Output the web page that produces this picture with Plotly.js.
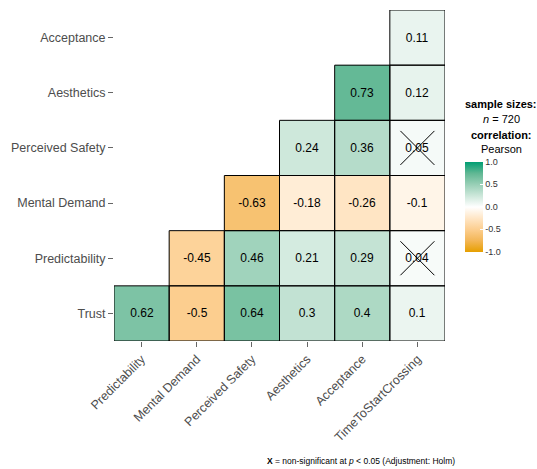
<!DOCTYPE html>
<html><head><meta charset="utf-8">
<script src="https://cdn.plot.ly/plotly-3.0.1.min.js"></script>
<style>body{margin:0;background:#fff}#chart{width:537px;height:469px}</style>
</head><body><div id="chart"></div>
<script>
const xCats = ["Predictability","Mental Demand","Perceived Safety","Aesthetics","Acceptance","TimeToStartCrossing"];
const yCats = ["Trust","Predictability","Mental Demand","Perceived Safety","Aesthetics","Acceptance"];
// rows follow yCats (bottom to top), columns follow xCats; null = empty cell
const rTrust = [0.62,-0.5,0.64,0.3,0.4,0.1];
const rPredictability = [null,-0.45,0.46,0.21,0.29,0.04];
const rMentalDemand = [null,null,-0.63,-0.18,-0.26,-0.1];
const rPerceivedSafety = [null,null,null,0.24,0.36,0.05];
const rAesthetics = [null,null,null,null,0.73,0.12];
const rAcceptance = [null,null,null,null,null,0.11];
// non-significant cells (row, column)
const nsRows = ["Predictability","Perceived Safety"];
const nsCols = ["TimeToStartCrossing","TimeToStartCrossing"];
const sampleSize = 720;

const z = [rTrust,rPredictability,rMentalDemand,rPerceivedSafety,rAesthetics,rAcceptance];
const text = z.map(r=>r.map(v=>v===null?"":String(v)));
const fnt = "Liberation Sans, Arial, sans-serif";

const heat = {
  type:"heatmap", x:xCats, y:yCats, z:z, zmin:-1, zmax:1,
  text:text, texttemplate:"%{text}", textfont:{size:12,color:"#000",family:fnt},
  hoverongaps:false,
  colorscale:[[0,"#E69F00"],[0.125,"rgb(243,182,86)"],[0.25,"rgb(252,206,143)"],[0.375,"rgb(255,230,198)"],[0.5,"#FFFFFF"],
              [0.625,"rgb(204,231,218)"],[0.75,"rgb(152,207,182)"],[0.875,"rgb(96,183,147)"],[1,"#009E73"]],
  colorbar:{thickness:18,len:90,lenmode:"pixels",ypad:0,xpad:0,x:1.06,xanchor:"left",y:0.406,yanchor:"middle",
    outlinewidth:0,tickvals:[-1,-0.5,0,0.5,1],ticktext:["-1.0","-0.5","0.0","0.5","1.0"],
    ticks:"inside",ticklen:3,tickcolor:"#fff",tickfont:{size:9,color:"#333",family:fnt}}
};
const crosses = {
  type:"scatter", mode:"markers", x:nsCols, y:nsRows, hoverinfo:"skip", showlegend:false,
  marker:{symbol:"x-thin-open",size:34,color:"#000",line:{width:1,color:"#000"}}
};

const shapes = [];
z.forEach((row,i)=>row.forEach((v,j)=>{
  if(v===null) return;
  shapes.push({type:"rect",xref:"x",yref:"y",x0:j-0.5,x1:j+0.5,y0:i-0.5,y1:i+0.5,line:{color:"#000",width:1},fillcolor:"rgba(0,0,0,0)"});
}));

const layout = {
  width:537,height:469,
  margin:{l:113.5,r:92,t:10,b:128},
  paper_bgcolor:"#fff",plot_bgcolor:"#fff",
  font:{family:fnt},
  xaxis:{type:"category",categoryorder:"array",categoryarray:xCats,tickangle:-45,showgrid:false,zeroline:false,
    ticks:"outside",ticklen:5,tickcolor:"#666",tickfont:{size:12.5,color:"#4D4D4D"},range:[-0.5,5.5]},
  yaxis:{type:"category",categoryorder:"array",categoryarray:yCats,showgrid:false,zeroline:false,
    ticks:"outside",ticklen:5,tickcolor:"#666",tickfont:{size:12.5,color:"#4D4D4D"},range:[-0.5,5.5]},
  shapes:shapes,
  annotations:[
    {xref:"paper",yref:"paper",x:1.17,y:1-(104-10)/331,text:"<b>sample sizes:</b>",showarrow:false,font:{size:11,color:"#000"},xanchor:"center",yanchor:"middle"},
    {xref:"paper",yref:"paper",x:1.17,y:1-(119-10)/331,text:"<i>n</i> = "+sampleSize,showarrow:false,font:{size:11,color:"#000"},xanchor:"center",yanchor:"middle"},
    {xref:"paper",yref:"paper",x:1.17,y:1-(135-10)/331,text:"<b>correlation:</b>",showarrow:false,font:{size:11,color:"#000"},xanchor:"center",yanchor:"middle"},
    {xref:"paper",yref:"paper",x:1.17,y:1-(149-10)/331,text:"Pearson",showarrow:false,font:{size:11,color:"#000"},xanchor:"center",yanchor:"middle"},
    {xref:"paper",yref:"paper",x:(361-113.5)/331.5,y:1-(461-10)/331,text:"<b>X</b> = non-significant at <i>p</i> < 0.05 (Adjustment: Holm)",showarrow:false,font:{size:8.5,color:"#000"},xanchor:"center",yanchor:"middle"}
  ]
};
Plotly.newPlot("chart",[heat,crosses],layout,{displayModeBar:false,staticPlot:true});
</script></body></html>
